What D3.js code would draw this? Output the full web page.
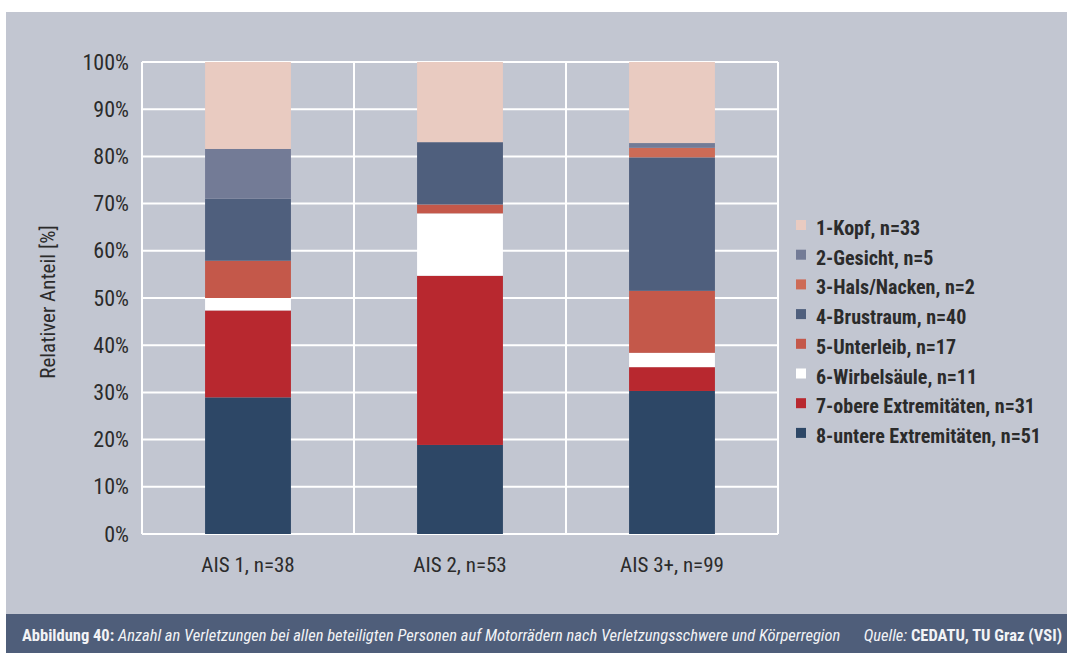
<!DOCTYPE html>
<html>
<head>
<meta charset="utf-8">
<script src="https://cdn.jsdelivr.net/npm/d3@7/dist/d3.min.js"></script>
<style>
  html, body { margin: 0; padding: 0; background: #ffffff; }
  svg { display: block; font-family: "Liberation Sans Narrow", "Roboto Condensed", "Arial Narrow", sans-serif; }
</style>
</head>
<body>
<svg id="chart" width="1067" height="653"></svg>
<script>
// Injury severity groups (x categories)
const groups = ["AIS 1, n=38", "AIS 2, n=53", "AIS 3+, n=99"];

// Body regions, stacked bottom-to-top in reverse of this list
const regions = ["1-Kopf", "2-Gesicht", "3-Hals/Nacken", "4-Brustraum",
                 "5-Unterleib", "6-Wirbelsäule", "7-obere Extremitäten", "8-untere Extremitäten"];
const regionColors = ["#e9cbc1", "#737b96", "#cd6b56", "#4f5f7d",
                      "#c4584a", "#ffffff", "#b8282f", "#2d4766"];

// Injury counts per region, one entry per severity group
const kopf        = [7, 9, 17];
const gesicht     = [4, 0, 1];
const halsNacken  = [0, 0, 2];
const brustraum   = [5, 7, 28];
const unterleib   = [3, 1, 13];
const wirbelsaeule= [1, 7, 3];
const obereExt    = [7, 19, 5];
const untereExt   = [11, 10, 30];

const yTicks = [0, 10, 20, 30, 40, 50, 60, 70, 80, 90, 100];

const counts = [kopf, gesicht, halsNacken, brustraum, unterleib, wirbelsaeule, obereExt, untereExt];

const FONT = '"Liberation Sans Narrow", "Roboto Condensed", "Arial Narrow", sans-serif';
const TEXT = "#2b2b2b";

const svg = d3.select("#chart");
const W = 1067, H = 653;

// Panel background and caption band
svg.append("rect").attr("x", 6).attr("y", 12).attr("width", W - 6).attr("height", 602).attr("fill", "#c2c6d1");
svg.append("rect").attr("x", 6).attr("y", 614).attr("width", W - 6).attr("height", H - 614).attr("fill", "#4f5e7a");

const plot = { left: 142, right: 778, top: 62, bottom: 534 };

const x = d3.scaleBand().domain(groups).range([plot.left, plot.right]).paddingInner(0).paddingOuter(0);
const y = d3.scaleLinear().domain([0, 100]).range([plot.bottom, plot.top]);

// Build percent table: row per group, column per region
const table = groups.map((g, gi) => {
  const total = d3.sum(counts, c => c[gi]);
  const row = { group: g };
  regions.forEach((r, ri) => { row[r] = counts[ri][gi] / total * 100; });
  return row;
});

const stackOrder = regions.slice().reverse();
const series = d3.stack().keys(stackOrder)(table);

// Grid
const grid = svg.append("g");
grid.selectAll("line.h").data(yTicks).join("line")
  .attr("x1", plot.left).attr("x2", plot.right)
  .attr("y1", d => y(d)).attr("y2", d => y(d))
  .attr("stroke", "#ffffff").attr("stroke-width", 2);
const vx = groups.map(g => x(g)).concat([plot.right]);
grid.selectAll("line.v").data(vx).join("line")
  .attr("x1", d => d).attr("x2", d => d)
  .attr("y1", plot.top).attr("y2", plot.bottom)
  .attr("stroke", "#ffffff").attr("stroke-width", 2);

// Bars
const barW = x.bandwidth() * 0.405;
const barOff = (x.bandwidth() - barW) / 2;
const colorOf = d3.scaleOrdinal().domain(regions).range(regionColors);

svg.append("g").selectAll("g").data(series).join("g")
  .attr("fill", s => colorOf(s.key))
  .selectAll("rect").data(s => s).join("rect")
  .attr("x", d => x(d.data.group) + barOff)
  .attr("width", barW)
  .attr("y", d => y(d[1]))
  .attr("height", d => y(d[0]) - y(d[1]));

// Y axis labels
const yAxis = d3.axisLeft(y).tickValues(yTicks).tickFormat(d => d + "%").tickSize(0).tickPadding(13);
const yg = svg.append("g").attr("transform", `translate(${plot.left},0)`).call(yAxis)
  .attr("font-family", FONT).attr("font-size", 22);
yg.select(".domain").remove();
yg.selectAll("text").attr("fill", TEXT);

// X axis labels
const xAxis = d3.axisBottom(x).tickSize(0).tickPadding(23);
const xg = svg.append("g").attr("transform", `translate(0,${plot.bottom})`).call(xAxis)
  .attr("font-family", FONT).attr("font-size", 21);
xg.select(".domain").remove();
xg.selectAll("text").attr("fill", TEXT);

// Y axis title
svg.append("text")
  .attr("transform", `translate(55,${(plot.top + plot.bottom) / 2 + 4}) rotate(-90)`)
  .attr("text-anchor", "middle")
  .attr("font-size", 21).attr("fill", TEXT)
  .text("Relativer Anteil [%]");

// Legend
const totals = counts.map(c => d3.sum(c));
const legend = svg.append("g").attr("transform", "translate(796,225)");
const li = legend.selectAll("g").data(regions).join("g")
  .attr("transform", (d, i) => `translate(0,${i * 29.7})`);
li.append("rect").attr("x", 0).attr("y", -5).attr("width", 10).attr("height", 10)
  .attr("fill", d => colorOf(d));
li.append("text").attr("x", 20).attr("y", 3).attr("dy", "0.35em")
  .attr("font-size", 20).attr("font-weight", "bold").attr("fill", TEXT)
  .text((d, i) => `${d}, n=${totals[i]}`);

// Caption
const cap = svg.append("text").attr("x", 22).attr("y", 641)
  .attr("font-size", 16.5).attr("fill", "#f2f3f6");
cap.append("tspan").attr("font-weight", "bold").text("Abbildung 40: ");
cap.append("tspan").attr("font-style", "italic")
  .text("Anzahl an Verletzungen bei allen beteiligten Personen auf Motorrädern nach Verletzungsschwere und Körperregion");

const src = svg.append("text").attr("x", 1062).attr("y", 641).attr("text-anchor", "end")
  .attr("font-size", 16.5).attr("fill", "#f2f3f6");
src.append("tspan").attr("font-style", "italic").text("Quelle: ");
src.append("tspan").attr("font-weight", "bold").text("CEDATU, TU Graz (VSI)");
</script>
</body>
</html>
